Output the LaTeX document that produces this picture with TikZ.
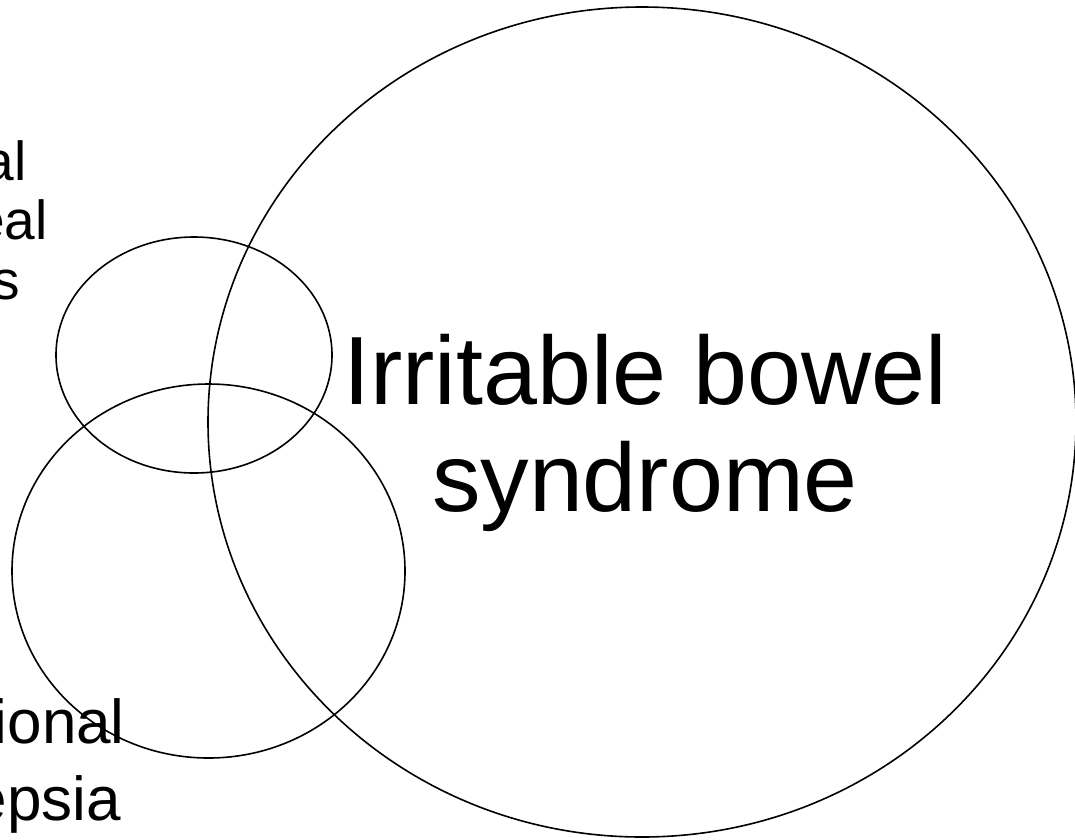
\documentclass[tikz,border=0pt]{standalone}
\usepackage{fontspec}
\setmainfont{Liberation Sans}
\begin{document}
\begin{tikzpicture}[x=1pt,y=-1pt,
  ring/.style={draw=black,line width=1.6pt},
  big/.style={font=\fontsize{97}{107}\selectfont,align=center,inner sep=0pt},
  sidetxt/.style={font=\fontsize{55}{60}\selectfont,inner sep=0pt,anchor=base east},
  sidetxtb/.style={font=\fontsize{62}{77}\selectfont,inner sep=0pt,anchor=base east}]
\useasboundingbox (0,0) rectangle (1075,839);
\draw[ring] (642,422) ellipse [x radius=434, y radius=415];
\draw[ring] (194,355) ellipse [x radius=138, y radius=118];
\draw[ring] (208.5,571) ellipse [x radius=196.5, y radius=187];
\node[big] (ibs) at (645,433) {Irritable bowel\\syndrome};
\node[sidetxt] (t1) at (27,180) {al};
\node[sidetxt] (t2) at (48,239) {eal};
\node[sidetxt] (t3) at (20,299) {s};
\node[sidetxtb] (b1) at (125,743) {ional};
\node[sidetxtb] (b2) at (121,820) {epsia};
\end{tikzpicture}
\end{document}
